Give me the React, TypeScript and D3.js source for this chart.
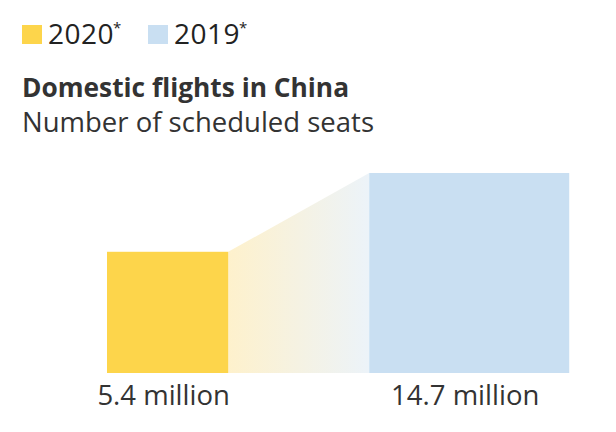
import React from "react";
import * as d3 from "d3";

const categories = ["2020*", "2019*"];
const values = [5.4, 14.7];
const valueLabels = ["5.4 million", "14.7 million"];
const colors = ["#fdd54b", "#c9dff2"];

const W = 616;
const H = 432;
const FONT = "'Open Sans', 'Noto Sans', sans-serif";

export default function App() {
  const side = d3.scaleSqrt().domain([0, d3.max(values) as number]).range([0, 200]);
  const baseY = 373;
  const x0 = 107;
  const gap = 141;
  const s0 = side(values[0]);
  const s1 = side(values[1]);
  const lefts = [x0, x0 + s0 + gap];
  const sides = [s0, s1];

  const trap = d3.line()([
    [lefts[0] + s0, baseY - s0],
    [lefts[1], baseY - s1],
    [lefts[1], baseY],
    [lefts[0] + s0, baseY],
  ]) + "Z";

  return (
    <svg width={W} height={H} style={{ position: "absolute", left: 0, top: 0, background: "#fff" }}>
      <defs>
        <linearGradient id="conn" x1="0" x2="1" y1="0" y2="0">
          <stop offset="0%" stopColor="#fef1cc" />
          <stop offset="100%" stopColor="#ecf3f9" />
        </linearGradient>
      </defs>
      {categories.map((c, i) => {
        const lx = [22, 148][i];
        return (
          <g key={c}>
            <rect x={lx} y={25} width={20} height={19} fill={colors[i]} />
            <text x={lx + 26} y={44} fontFamily={FONT} fontSize={28} fill="#222" letterSpacing={0.5}>
              {c.replace("*", "")}
              <tspan fontSize={15} dy={-11} dx={-1}>*</tspan>
            </text>
          </g>
        );
      })}
      <text x={22} y={97} fontFamily={FONT} fontSize={26.3} fontWeight={700} fill="#333">
        Domestic flights in China
      </text>
      <text x={22} y={132} fontFamily={FONT} fontSize={27.5} fill="#333">
        Number of scheduled seats
      </text>
      <path d={trap} fill="url(#conn)" />
      {values.map((v, i) => (
        <g key={i}>
          <rect x={lefts[i]} y={baseY - sides[i]} width={sides[i]} height={sides[i]} fill={colors[i]} />
          <text
            x={lefts[i] + sides[i] / 2 - 4}
            y={405}
            textAnchor="middle"
            fontFamily={FONT}
            fontSize={27.5}
            fill="#333"
          >
            {valueLabels[i]}
          </text>
        </g>
      ))}
    </svg>
  );
}
